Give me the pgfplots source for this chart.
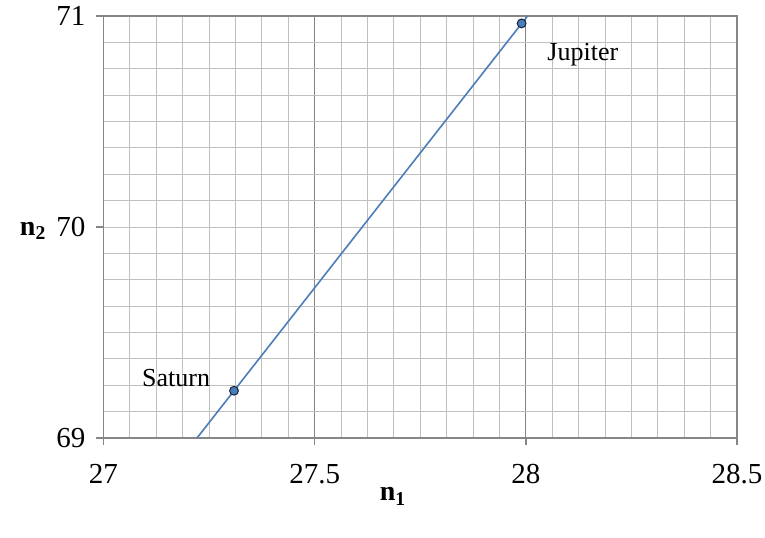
\documentclass[border=0pt]{standalone}
\usepackage{pgfplots}
\pgfplotsset{compat=1.18}
\usepackage{fontspec}
\setmainfont{Liberation Serif}
\definecolor{lineblue}{RGB}{74,126,187}
\definecolor{majgrid}{RGB}{134,134,134}
\definecolor{mingrid}{RGB}{191,191,191}
\begin{document}
\begin{tikzpicture}
\begin{axis}[
  name=ax,
  scale only axis,
  width=316.75pt, height=211pt,
  xmin=27, xmax=28.5, ymin=69, ymax=71,
  xtick={27,27.5,28,28.5}, ytick={69,70,71},
  xticklabels={27,27.5,28,28.5},
  yticklabels={69,70,71},
  xtick pos=bottom, ytick pos=left,
  minor x tick num=7, minor y tick num=7,
  xmajorgrids, ymajorgrids, xminorgrids, yminorgrids,
  major x grid style={draw=majgrid, line width=0.6pt},
  major y grid style={draw=mingrid, line width=0.5pt},
  minor grid style={draw=mingrid, line width=0.5pt},
  axis line style={draw=majgrid, line width=0.8pt},
  tick align=outside,
  major tick length=3.5pt,
  minor tick length=0pt,
  tick style={draw=majgrid, line width=0.8pt},
  /pgf/number format/assume math mode=true,
  ticklabel style={font=\fontsize{14.5}{16}\selectfont},
  xticklabel style={yshift=-6pt},
  yticklabel style={xshift=-2pt},
  xlabel={\textbf{n\textsubscript{1}}},
  ylabel={\textbf{n\textsubscript{2}}},
  label style={font=\fontsize{14}{16}\selectfont},
  xlabel style={at={(axis description cs:0.457,-0.138)}, anchor=center},
  ylabel style={rotate=-90, at={(axis description cs:-0.111,0.49)}, anchor=center},
  clip=true,
]
\addplot[lineblue, line width=0.8pt] coordinates {(27.2214,69) (28.004,71)};
\addplot[only marks, mark=*, mark size=2.2pt, mark options={fill=lineblue, draw=black!70!lineblue, line width=0.5pt}] coordinates {(27.309,69.224) (27.99,70.965)};
\node[font=\fontsize{13}{15}\selectfont] at (axis cs:27.172,69.284) {Saturn};
\node[font=\fontsize{13}{15}\selectfont] at (axis cs:28.135,70.815) {Jupiter};
\end{axis}
\pgfresetboundingbox
\path[use as bounding box] ([shift={(-51.75pt,-49.5pt)}]ax.south west) rectangle ([shift={(330.75pt,219pt)}]ax.south west);
\end{tikzpicture}
\end{document}
